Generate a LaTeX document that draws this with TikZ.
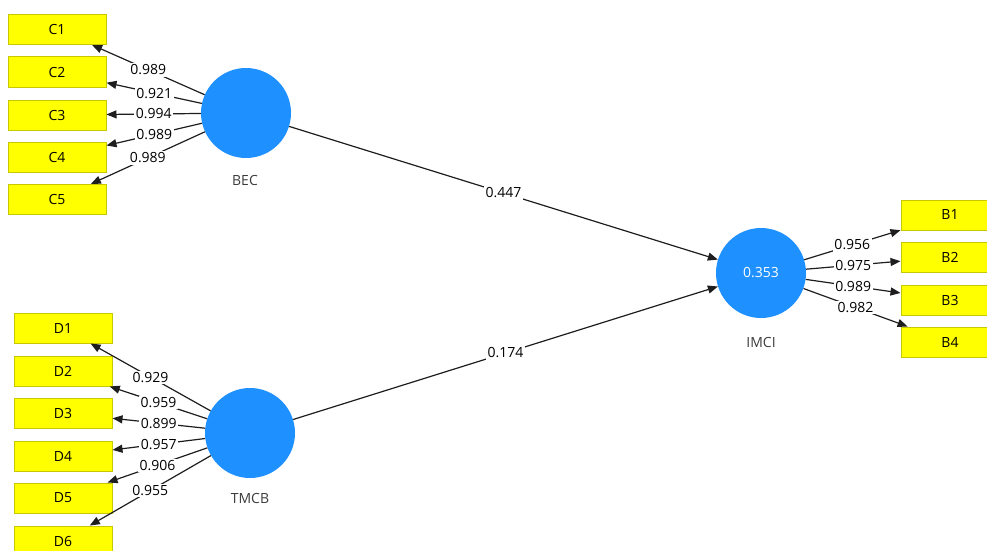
\documentclass[tikz,border=0pt]{standalone}
\usepackage{fontspec}
\setmainfont{Open Sans}
\usetikzlibrary{arrows.meta}
\definecolor{lvblue}{RGB}{30,144,255}
\definecolor{indfill}{RGB}{255,255,0}
\definecolor{indedge}{RGB}{200,200,0}
\definecolor{linegray}{RGB}{30,30,30}
\definecolor{namegray}{RGB}{60,60,60}
\newcommand\plsfont{\fontsize{14pt}{16pt}\selectfont}
\begin{document}
\begin{tikzpicture}[x=1pt,y=1pt,
  ind/.style={draw=indedge, line width=1pt, fill=indfill, minimum width=98pt, minimum height=30pt, inner sep=0pt, font=\plsfont},
  lv/.style={circle, fill=lvblue, minimum size=90pt, inner sep=0pt, text=white, font=\plsfont},
  lvname/.style={text=namegray, font=\plsfont},
  arr/.style={draw=linegray, line width=1.2pt, -{Triangle[length=10pt,width=8pt]}},
  wt/.style={fill=white, inner sep=1.5pt, text=black, font=\plsfont}
]
\useasboundingbox (0,0) rectangle (987,-551);
\fill[white] (0,0) rectangle (987,-551);

% indicators
\node[ind] (c1) at (57,-29.5) {C1};
\node[ind] (c2) at (57,-72) {C2};
\node[ind] (c3) at (57,-115) {C3};
\node[ind] (c4) at (57,-157) {C4};
\node[ind] (c5) at (57,-199.5) {C5};

\node[ind] (d1) at (63,-328) {D1};
\node[ind] (d2) at (63,-371) {D2};
\node[ind] (d3) at (63,-413) {D3};
\node[ind] (d4) at (63,-456) {D4};
\node[ind] (d5) at (63,-498) {D5};
\node[ind] (d6) at (63,-541) {D6};

\node[ind] (b1) at (950,-215) {B1};
\node[ind] (b2) at (950,-257) {B2};
\node[ind] (b3) at (950,-300) {B3};
\node[ind] (b4) at (950,-342) {B4};

% latent variables
\node[lv] (bec) at (246,-113) {};
\node[lv] (tmcb) at (250,-433) {};
\node[lv] (imci) at (761,-273) {0.353};
\node[lvname] (becname) at (245,-180) {BEC};
\node[lvname] (tmcbname) at (250,-498) {TMCB};
\node[lvname] (imciname) at (761,-342) {IMCI};

% connectors
\foreach \t in {c1,c2,c3,c4,c5} \draw[arr] (bec) -- (\t);
\foreach \t in {d1,d2,d3,d4,d5,d6} \draw[arr] (tmcb) -- (\t);
\foreach \t in {b1,b2,b3,b4} \draw[arr] (imci) -- (\t);
\draw[arr] (bec) -- (imci);
\draw[arr] (tmcb) -- (imci);

% weights
\foreach \t/\w in {c1/0.989,c2/0.921,c3/0.994,c4/0.989,c5/0.989}
  \path (bec) -- (\t) node[wt, midway] {\w};
\foreach \t/\w in {d1/0.929,d2/0.959,d3/0.899,d4/0.957,d5/0.906,d6/0.955}
  \path (tmcb) -- (\t) node[wt, midway] {\w};
\foreach \t/\w in {b1/0.956,b2/0.975,b3/0.989,b4/0.982}
  \path (imci) -- (\t) node[wt, midway] {\w};
\path (bec) -- (imci) node[wt, midway] {0.447};
\path (tmcb) -- (imci) node[wt, midway] {0.174};
\end{tikzpicture}
\end{document}
